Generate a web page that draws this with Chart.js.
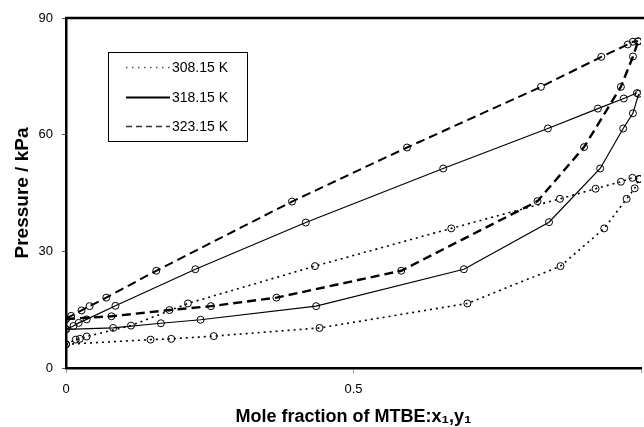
<!DOCTYPE html>
<html><head><meta charset="utf-8">
<script src="https://cdn.jsdelivr.net/npm/chart.js@4"></script>
<style>
html,body{margin:0;padding:0;overflow:hidden;background:#fff;width:644px;height:427px}
#wrap{width:650px;height:427px;position:relative}
</style></head>
<body><div id="wrap"><canvas id="c" width="650" height="427"></canvas></div>
<script>
const temperatures = ['308.15 K', '318.15 K', '323.15 K'];
const xTickValues = [0, 0.5, 1];
const xTickLabels = ['0', '0.5', ''];
const yTickValues = [0, 30, 60, 90];
const xAxisTitle = 'Mole fraction of MTBE:x\u2081,y\u2081';
const yAxisTitle = 'Pressure / kPa';

// 308.15 K
const x308Bubble = [0, 0.017, 0.024, 0.036, 0.113, 0.212, 0.433, 0.670, 0.859, 0.921, 0.965, 0.985, 0.997];
const p308Bubble = [6.1, 7.3, 7.5, 8.1, 10.9, 16.6, 26.2, 35.9, 43.5, 46.1, 47.9, 48.9, 48.6];
const y308Dew = [0, 0.147, 0.183, 0.257, 0.441, 0.698, 0.860, 0.936, 0.975, 0.989, 0.997];
const p308Dew = [6.1, 7.3, 7.5, 8.2, 10.3, 16.6, 26.2, 35.9, 43.5, 46.2, 48.6];
// 318.15 K
const x318Bubble = [0, 0.013, 0.022, 0.036, 0.086, 0.225, 0.417, 0.656, 0.838, 0.925, 0.970, 0.993];
const p318Bubble = [9.95, 10.8, 11.6, 12.5, 16.0, 25.4, 37.4, 51.3, 61.6, 66.7, 69.3, 70.7];
const y318Dew = [0, 0.082, 0.165, 0.234, 0.435, 0.692, 0.840, 0.929, 0.969, 0.986, 0.996];
const p318Dew = [9.95, 10.3, 11.5, 12.4, 15.9, 25.4, 37.5, 51.3, 61.6, 65.5, 70.5];
// 323.15 K
const x323Bubble = [0, 0.009, 0.027, 0.041, 0.070, 0.157, 0.393, 0.593, 0.826, 0.931, 0.977, 0.986, 0.995];
const p323Bubble = [12.6, 13.4, 14.8, 15.9, 18.1, 25.0, 42.8, 56.7, 72.3, 80.0, 83.2, 83.9, 84.0];
const y323Dew = [0, 0.079, 0.180, 0.252, 0.366, 0.583, 0.820, 0.901, 0.965, 0.986, 0.995];
const p323Dew = [12.6, 13.3, 14.9, 15.9, 18.1, 25.0, 42.9, 56.8, 72.3, 80.1, 84.0];

const styles = [
  {borderDash: [2, 4], borderWidth: 1.6},
  {borderDash: [], borderWidth: 1.2},
  {borderDash: [9, 5], borderWidth: 2},
  {borderDash: [9, 5], borderWidth: 2.4}
];
const legendStyles = [
  {borderDash: [1.5, 4.5], borderWidth: 1.3, color: '#555'},
  {borderDash: [], borderWidth: 1.8, color: '#000'},
  {borderDash: [6, 4], borderWidth: 1.5, color: '#333'}
];

function pts(xs, ps) { return xs.map((x, i) => ({x: x, y: ps[i]})); }
function ds(label, xs, ps, s) {
  return {
    label: label, data: pts(xs, ps), showLine: true, tension: 0,
    borderColor: '#000', borderWidth: s.borderWidth, borderDash: s.borderDash,
    pointRadius: 3.5, pointBorderWidth: 1, pointBorderColor: '#000',
    pointBackgroundColor: 'rgba(255,255,255,0)', pointHoverRadius: 3.5
  };
}

const datasets = [
  ds(temperatures[0], x308Bubble, p308Bubble, styles[0]),
  ds(temperatures[0], y308Dew, p308Dew, styles[0]),
  ds(temperatures[1], x318Bubble, p318Bubble, styles[1]),
  ds(temperatures[1], y318Dew, p318Dew, styles[1]),
  ds(temperatures[2], x323Bubble, p323Bubble, styles[2]),
  ds(temperatures[2], y323Dew, p323Dew, styles[3])
];

const FONT = "Arial, 'Liberation Sans', sans-serif";

const framePlugin = {
  id: 'frame',
  afterDraw(chart) {
    const {ctx, chartArea: a} = chart;
    ctx.save();
    ctx.strokeStyle = '#000';
    ctx.lineWidth = 2.5;
    ctx.beginPath();
    ctx.moveTo(a.left - 1, a.top);
    ctx.lineTo(a.right + 5, a.top);
    ctx.stroke();
    const bx = 108.5, by = 52.5, bw = 139, bh = 89;
    ctx.fillStyle = '#fff';
    ctx.fillRect(bx, by, bw, bh);
    ctx.lineWidth = 1;
    ctx.strokeStyle = '#000';
    ctx.strokeRect(bx, by, bw, bh);
    const rows = [67.5, 97.5, 126.5];
    ctx.font = '14px ' + FONT;
    ctx.textBaseline = 'middle';
    ctx.textAlign = 'left';
    temperatures.forEach((t, i) => {
      const s = legendStyles[i];
      ctx.save();
      ctx.strokeStyle = s.color;
      ctx.lineWidth = s.borderWidth;
      ctx.setLineDash(s.borderDash);
      ctx.beginPath();
      ctx.moveTo(126, rows[i]);
      ctx.lineTo(170, rows[i]);
      ctx.stroke();
      ctx.restore();
      ctx.fillStyle = '#000';
      ctx.fillText(t, 172, rows[i] + 1);
    });
    ctx.restore();
  }
};

new Chart(document.getElementById('c'), {
  type: 'scatter',
  data: {datasets: datasets},
  options: {
    responsive: false,
    animation: false,
    devicePixelRatio: 1,
    layout: {padding: {top: 18, right: 5, left: 0, bottom: 0}},
    plugins: {legend: {display: false}, tooltip: {enabled: false}},
    scales: {
      x: {
        type: 'linear', min: 0, max: 1,
        afterFit(scale) { scale.height = 59; },
        afterBuildTicks(scale) { scale.ticks = xTickValues.map(v => ({value: v})); },
        ticks: {
          callback: (v) => { const i = xTickValues.indexOf(v); return i >= 0 ? xTickLabels[i] : ''; },
          color: '#000', font: {family: FONT, size: 13}, padding: 9, maxRotation: 0
        },
        grid: {drawOnChartArea: false, drawTicks: true, tickLength: 5, color: '#999', lineWidth: 1},
        border: {display: true, color: '#000', width: 2.5},
        title: {display: true, text: xAxisTitle, color: '#000',
          font: {family: FONT, size: 18, weight: 'bold'}, padding: {top: 0, bottom: -1}}
      },
      y: {
        type: 'linear', min: 0, max: 90,
        afterFit(scale) { scale.width = 66; },
        afterBuildTicks(scale) { scale.ticks = yTickValues.map(v => ({value: v})); },
        ticks: {color: '#000', font: {family: FONT, size: 13}, padding: 9},
        grid: {drawOnChartArea: false, drawTicks: true, tickLength: 4, color: '#555', lineWidth: 1},
        border: {display: true, color: '#000', width: 2.5},
        title: {display: true, text: yAxisTitle, color: '#000',
          font: {family: FONT, size: 19, weight: 'bold'}, padding: {top: 11, bottom: 0}}
      }
    }
  },
  plugins: [framePlugin]
});
</script>
</body></html>
